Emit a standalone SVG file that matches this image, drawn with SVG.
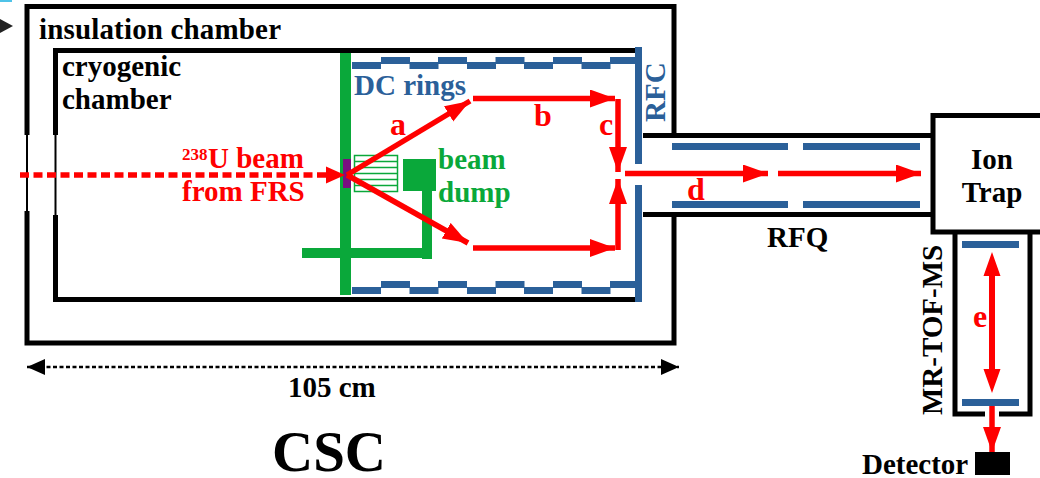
<svg xmlns="http://www.w3.org/2000/svg" width="1040" height="478" viewBox="0 0 1040 478">
<defs>
<marker id="ah" markerUnits="userSpaceOnUse" markerWidth="27" markerHeight="20" refX="25" refY="9" orient="auto-start-reverse"><path d="M0 0L25 9L0 18Z" fill="#f00"/></marker>
<marker id="dh" markerUnits="userSpaceOnUse" markerWidth="20" markerHeight="18" refX="18" refY="8" orient="auto-start-reverse"><path d="M0 0L18 8L0 16Z" fill="#000"/></marker>
<path id="ring-low" d="M0 0H29V7H0Z" fill="#2b6099"/>
</defs>
<style>
text{font-family:"Liberation Serif","Times New Roman",serif;font-weight:bold;font-size:29px}
.k{fill:#000}.r{fill:#f00}.b{fill:#2b6099}.g{fill:#0aa83a}
.wall{fill:none;stroke:#000;stroke-width:5}
.thin{fill:none;stroke:#000;stroke-width:2}
.arr{fill:none;stroke:#f00;stroke-width:5.500;marker-end:url(#ah)}
.fs{font-size:32px}
</style>
<rect width="1040" height="478" fill="#fff"/>
<rect id="corner-mark" x="0" y="0" width="12" height="2" fill="#4fc3e8"/>
<path id="entry-mark" d="M0 19L13 26L0 33Z" fill="#222"/>
<g id="insulation-chamber">
<path class="wall" d="M27 135V6.500H674V135M27 211V343H674V215"/>
<path class="thin" d="M27 135V211"/>
<text class="k" x="39" y="39" textLength="242">insulation chamber</text>
</g>
<g id="cryogenic-chamber">
<path class="wall" d="M55.500 135V50.500H636M55.500 215V299.500H636"/>
<path class="thin" d="M55.500 135V215"/>
<text class="k" x="62" y="76">cryogenic</text>
<text class="k" x="62" y="109">chamber</text>
</g>
<g id="beam-dump">
<rect x="340" y="53" width="11" height="242" fill="#0aa83a"/>
<rect x="403" y="159" width="33" height="32" fill="#0aa83a"/>
<rect x="422" y="185" width="10" height="74" fill="#0aa83a"/>
<rect x="302" y="248" width="130" height="10" fill="#0aa83a"/>
<g fill="none" stroke="#0aa83a" stroke-width="1.500"><rect x="354.500" y="155.500" width="43" height="36"/><path d="M355 161.500H398M355 167.500H398M355 173.500H398M355 179.500H398M355 185.500H398"/></g>
<text class="g" x="438" y="169">beam</text>
<text class="g" x="438" y="202">dump</text>
</g>
<g id="target"><rect x="343" y="159" width="8" height="29" fill="#7a0f80"/></g>
<g id="dc-rings">
<use href="#ring-low" x="352" y="62"/><use href="#ring-low" x="381" y="57"/><use href="#ring-low" x="409.500" y="62"/><use href="#ring-low" x="438" y="57"/><use href="#ring-low" x="467" y="62"/><use href="#ring-low" x="495.500" y="57"/><use href="#ring-low" x="524" y="62"/><use href="#ring-low" x="553" y="57"/><use href="#ring-low" x="581.500" y="62"/><use href="#ring-low" x="610" y="57"/>
<use href="#ring-low" x="352" y="287"/><use href="#ring-low" x="381" y="281"/><use href="#ring-low" x="409.500" y="287"/><use href="#ring-low" x="438" y="281"/><use href="#ring-low" x="467" y="287"/><use href="#ring-low" x="495.500" y="281"/><use href="#ring-low" x="524" y="287"/><use href="#ring-low" x="553" y="281"/><use href="#ring-low" x="581.500" y="287"/><use href="#ring-low" x="610" y="281"/>
<text class="b" x="354" y="95">DC rings</text>
</g>
<g id="rfc">
<rect x="635" y="47" width="7" height="117" fill="#2b6099"/>
<rect x="635" y="185" width="7" height="117" fill="#2b6099"/>
<text class="b" transform="translate(665 122) rotate(-90)">RFC</text>
</g>
<g id="rfq">
<path class="wall" d="M643 135.500H933M643 214.500H933"/>
<rect x="672" y="143" width="116" height="7" fill="#2b6099"/>
<rect x="803" y="143" width="117" height="7" fill="#2b6099"/>
<rect x="672" y="201" width="116" height="7" fill="#2b6099"/>
<rect x="803" y="201" width="117" height="7" fill="#2b6099"/>
<text class="k" x="767" y="247">RFQ</text>
</g>
<g id="ion-trap">
<path class="wall" d="M1040 115.500H933V232H1040"/>
<text class="k" x="992" y="169" text-anchor="middle">Ion</text>
<text class="k" x="992" y="202" text-anchor="middle">Trap</text>
</g>
<g id="mr-tof-ms">
<path class="wall" d="M955 232V414H985M999 414H1030V232"/>
<rect x="962" y="241" width="57" height="7" fill="#2b6099"/>
<rect x="962" y="399" width="57" height="7" fill="#2b6099"/>
<text class="k" transform="translate(942 415) rotate(-90)">MR-TOF-MS</text>
</g>
<g id="detector">
<rect x="975" y="452" width="35" height="23" fill="#000"/>
<text class="k" x="862" y="474">Detector</text>
</g>
<g id="connectors">
<path d="M20 175H326" fill="none" stroke="#f00" stroke-width="5.500" stroke-dasharray="9 4.500"/>
<path d="M326 166.500L345 175L326 183.500Z" fill="#f00"/>
<path class="arr" d="M347 175L470 101"/>
<path class="arr" d="M347 175L468 243"/>
<path class="arr" d="M473 98.500H615"/>
<path class="arr" d="M473 248H615"/>
<path class="arr" d="M618 99V172"/>
<path class="arr" d="M618 250V179"/>
<path class="arr" d="M625 173.500H768"/>
<path class="arr" d="M778 173.500H921"/>
<path d="M992 276V369" fill="none" stroke="#f00" stroke-width="6"/>
<path d="M992 252L1000.500 276H983.500ZM992 393L1000.500 369H983.500Z" fill="#f00"/>
<path class="arr" d="M992 406V452"/>
<path d="M27 367H679" fill="none" stroke="#000" stroke-width="2.500" stroke-dasharray="4 2.500" marker-start="url(#dh)" marker-end="url(#dh)"/>
</g>
<g id="labels">
<text class="r" x="182" y="160" style="font-size:17px">238</text>
<text class="r" x="208" y="168">U beam</text>
<text class="r" x="182" y="201">from FRS</text>
<text class="r fs" x="390" y="135">a</text>
<text class="r fs" x="534" y="126">b</text>
<text class="r fs" x="599" y="135">c</text>
<text class="r fs" x="687" y="200">d</text>
<text class="r fs" x="973" y="327">e</text>
<text class="k" x="288" y="397">105 cm</text>
<text class="k" x="272" y="471" style="font-size:57px">CSC</text>
</g>
</svg>
